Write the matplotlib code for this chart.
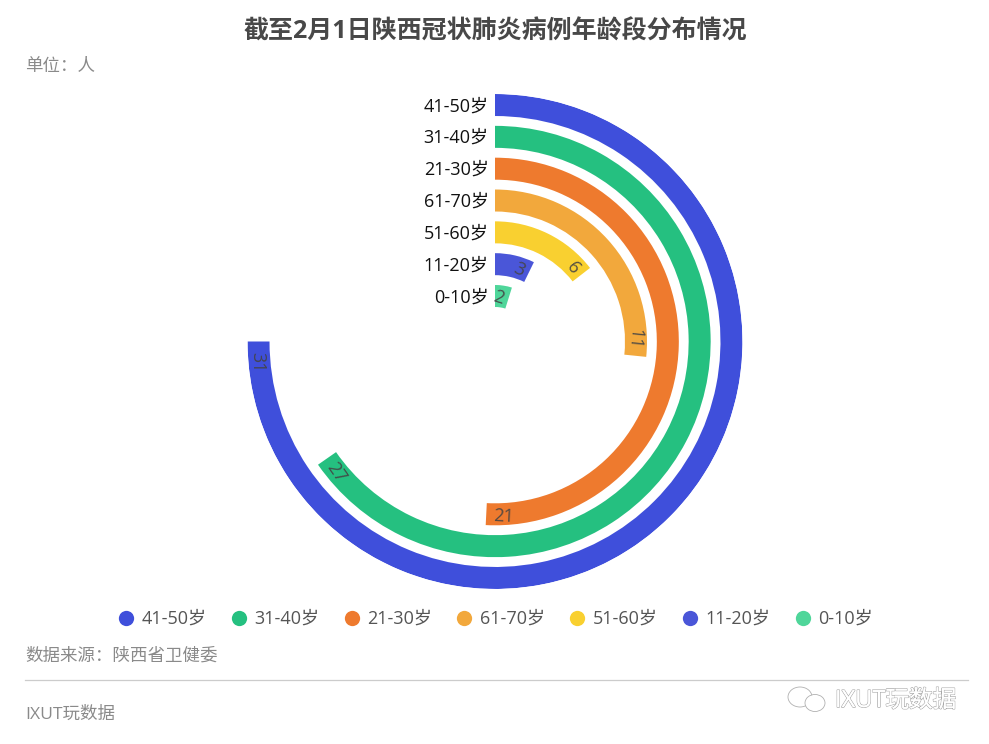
import numpy as np
import matplotlib
matplotlib.use('Agg')
import matplotlib.pyplot as plt
import matplotlib.patheffects as pe
from matplotlib.lines import Line2D
from matplotlib.patches import Ellipse

plt.rcParams['font.family'] = ['Open Sans', 'Noto Sans CJK SC', 'DejaVu Sans']

# 从内到外
ages = ['0-10岁', '11-20岁', '51-60岁', '61-70岁', '21-30岁', '31-40岁', '41-50岁']
counts = [2, 3, 6, 11, 21, 27, 31]
colors = ['#4FD69A', '#4A56D8', '#F9D030', '#F2A83C', '#EE7A2E', '#25C080', '#3F4FDB']

W, H = 989, 744
cx, cy, R = 495, 341.5, 247.5
pitch = 31.83
bar_px = 22
r0 = 45.5 / pitch  # 内圈中心到圆心的距离(类目单位)
max_angle = 270.0
max_val = max(counts)


def fx(x):
    return x / W


def fy(y):
    return 1 - y / H


fig = plt.figure(figsize=(W / 100, H / 100), dpi=100, facecolor='white')
ax = fig.add_axes([fx(cx - R), fy(cy + R), 2 * R / W, 2 * R / H], projection='polar')
ax.set_theta_zero_location('N')
ax.set_theta_direction(-1)
ax.set_xlim(0, 2 * np.pi)
ax.set_ylim(-r0, (R - 45.5) / pitch)
ax.axis('off')

h = bar_px / pitch
for i, (age, v, c) in enumerate(zip(ages, counts, colors)):
    ang = v / max_val * max_angle
    ax.bar(0, h, width=np.radians(ang), bottom=i - h / 2, align='edge', color=c, linewidth=0)

    # 左侧类目标签
    ax.annotate(age, xy=(0, i), xytext=(-4.5, -0.8), textcoords='offset points',
                ha='right', va='center', fontsize=13, color='#111111', annotation_clip=False)

    # 数值标签，沿圆弧方向，放在末端内侧
    r_px = (i + r0) * pitch
    back = 10 if v < 10 else 17
    if v == max_val:
        back = 21
    lab_ang = ang - np.degrees(back / r_px)
    rot = -ang + 180 if ang >= 180 else -ang
    ax.text(np.radians(lab_ang), i, str(v), rotation=rot, rotation_mode='anchor',
            ha='center', va='center_baseline', fontsize=13, color='#444444', alpha=0.9)

fig.text(fx(495.5), fy(32.5), '截至2月1日陕西冠状肺炎病例年龄段分布情况', ha='center', va='center',
         fontsize=18, fontweight='bold', color='#484848')
fig.text(fx(25), fy(67), '单位：人', ha='left', va='center', fontsize=12.6, color='#8a8a8a')

handles = [Line2D([], [], linestyle='none', marker='o', markersize=11, markeredgewidth=0, color=colors[i])
           for i in range(len(ages) - 1, -1, -1)]
leg = fig.legend(handles, ages[::-1], ncol=7, loc='center', bbox_to_anchor=(fx(494), fy(619)),
                 frameon=False, fontsize=13, handletextpad=0.25, columnspacing=1.2, handlelength=1.2,
                 labelcolor='#555555')

fig.text(fx(25), fy(656), '数据来源：陕西省卫健委', ha='left', va='center', fontsize=12.6, color='#8a8a8a')
fig.add_artist(Line2D([fx(25), fx(968)], [fy(679.5), fy(679.5)], color='#cccccc', linewidth=0.9))
fig.text(fx(25), fy(715), 'IXUT玩数据', ha='left', va='center', fontsize=12.6, color='#8a8a8a')

# 水印
fig.text(fx(835), fy(701), 'IXUT玩数据', ha='left', va='center', fontsize=17, color='white',
         path_effects=[pe.withStroke(linewidth=1.0, foreground='#a8a8a8'), pe.Normal()])
for ex, ey, ew, eh in [(800, 697, 24, 20), (815, 703, 20, 17)]:
    fig.add_artist(Ellipse((fx(ex), fy(ey)), ew / W, eh / H, transform=fig.transFigure,
                           facecolor='white', edgecolor='#b0b0b0', linewidth=0.6))

fig.savefig('out.png', dpi=100, facecolor='white')
